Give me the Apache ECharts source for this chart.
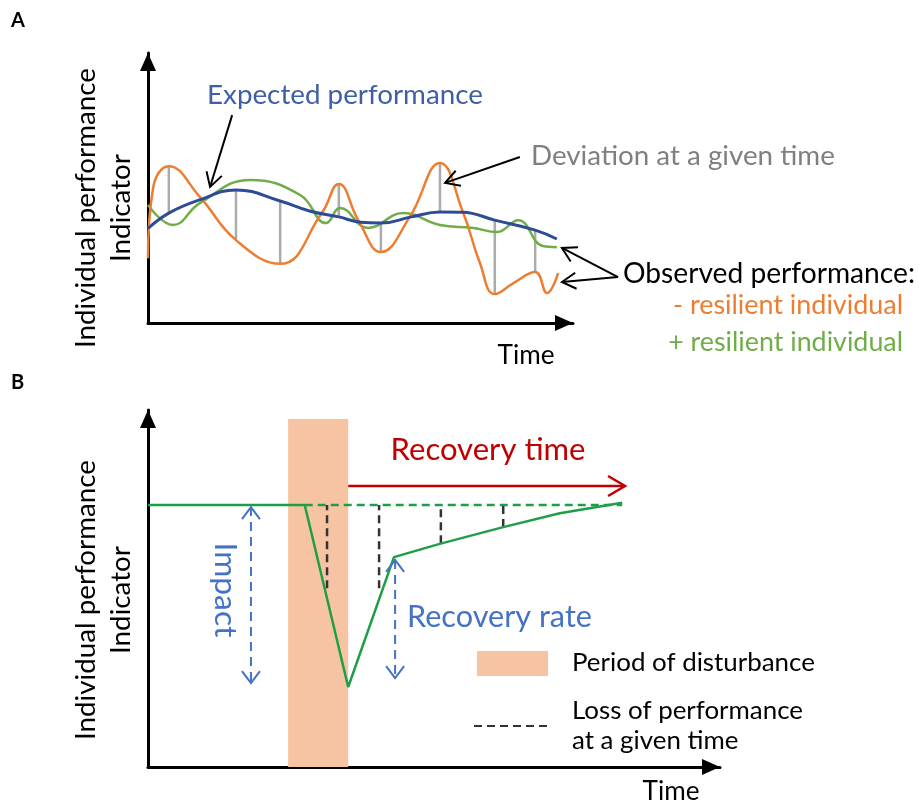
<!DOCTYPE html>
<html><head><meta charset="utf-8">
<script src="https://cdn.jsdelivr.net/npm/echarts@6/dist/echarts.min.js"></script>
<style>html,body{margin:0;padding:0;background:#fff}#c{width:919px;height:805px}</style>
</head><body><div id="c"></div>
<script>
// ---------- Panel A data (time 0-100, performance indicator 0-100) ----------
const expectedA = [[0,35],[4.9,40.7],[12,45.5],[20.7,49.3],[31.1,45.2],[38,41.5],[44.9,39.3],[50,37.3],[54.8,37],[62,39.3],[68.7,41.1],[74,41],[81.6,38.1],[91.1,34.4],[96.2,31.1]];
const lowResilientA = [[0,24],[1.2,50],[4.9,58.1],[12.2,46.7],[20.7,30.7],[31.1,21.9],[40.9,40.7],[44.9,51.5],[49.5,38],[54.8,26.3],[61.6,39.3],[68.7,59.3],[74.1,41.1],[78.1,22.2],[81.6,10.7],[86,14.8],[91.1,18.9],[93.9,11.1],[96.5,18.5]];
const highResilientA = [[0,43.7],[5.9,36.3],[12.2,44.4],[24,53],[35.8,47.4],[41.9,37],[45.2,42.6],[51.8,35.2],[60,40.7],[68.7,36.3],[76.5,35.2],[82.1,33.7],[87.1,38.1],[92.9,28.5],[96.2,28.1]];
const deviationTimesA = [4.9,20.7,31.1,44.9,54.8,68.7,81.6,91.1];
const annotationArrowsA = [[19.8,77,14.6,50.4],[87.5,61.5,69.9,51.9],[110.6,17,97.4,27.8],[110.6,17,97.4,15.2]];

// ---------- Panel B data ----------
const observedB = [[0,73.4],[27.4,73.4],[35,22.4],[43,58.8],[51,62.5],[62.1,67.2],[72,71.1],[82.9,74.0]];
const baselineB = [[27.4,73.4],[82.9,73.4]];
const disturbanceB = [24.5,35.0,97.5];
const lossTimesB = [31.3,40.4,51.2,62.1];
const lossBottomB = [50.1,50.1,62.7,67.2];
const recoveryTimeArrowB = [[35,78.7,83.4,78.7]];
const doubleArrowsB = [[18.0,72.8,18.0,23.5],[43.2,58,43.2,24.9]];

const FONT = 'Lato';
const C = document.createElement('canvas').getContext('2d');
function fit(text, w, weight) { C.font = (weight||'normal') + ' 100px ' + FONT; return 100 * w / C.measureText(text).width; }
function txt(text, x, y, color, w, o) {
  o = o || {};
  const size = o.size || fit(text, w, o.weight);
  const al = o.align || 'left';
  return { type:'text', x:x, y:y, rotation:o.rot||0, silent:true, z:10,
    style:{ text:text, x:0, y:0, fill:color, font:(o.weight||'normal')+' '+size.toFixed(2)+'px '+FONT,
      align:al, textAlign:al, verticalAlign:'middle', textVerticalAlign:'middle' } };
}
function lookup(arr, t) { for (const p of arr) if (Math.abs(p[0]-t) < 1e-9) return p[1]; return null; }

function segSeries(idx, data, o) {
  return { type:'custom', xAxisIndex:idx, yAxisIndex:idx, clip:false, silent:true, z:o.z||5, data:data,
    encode:{x:[0,2], y:[1,3]},
    renderItem:function(params, api){
      const p1 = api.coord([api.value(0), api.value(1)]);
      const p2 = api.coord([api.value(2), api.value(3)]);
      const kids = [{type:'line', shape:{x1:p1[0],y1:p1[1],x2:p2[0],y2:p2[1]},
        style:{stroke:o.color, lineWidth:o.width, lineDash:o.dash||null, fill:null}}];
      function head(tip, from){
        const a = Math.atan2(tip[1]-from[1], tip[0]-from[0]);
        const L=o.len, W=o.wid, c=Math.cos(a), s=Math.sin(a);
        return {type:'polyline', shape:{points:[[tip[0]-L*c+W*s, tip[1]-L*s-W*c], tip, [tip[0]-L*c-W*s, tip[1]-L*s+W*c]]},
          style:{stroke:o.color, lineWidth:o.width, fill:null}};
      }
      if (o.end) kids.push(head(p2,p1));
      if (o.start) kids.push(head(p1,p2));
      return {type:'group', children:kids};
    } };
}

const axisCommon = { type:'value', min:0, max:100, splitLine:{show:false}, axisTick:{show:false}, axisLabel:{show:false},
  axisLine:{show:true, onZero:false, symbol:['none','triangle'], symbolSize:[16,18], symbolOffset:[0,-9], lineStyle:{color:'#000', width:3}} };

const deviationSegs = deviationTimesA.map(t => [t, lookup(lowResilientA,t), t, lookup(expectedA,t)]);
const lossSegs = lossTimesB.map((t,i) => [t, lossBottomB[i], t, lookup(baselineB,27.4)]);
const labelSize = fit('Individual performance', 280);
const timeSize = fit('Time', 57);

const option = {
  animation:false,
  grid:[{left:148, top:53, width:425, height:270},{left:148, top:410, width:572, height:357}],
  xAxis:[Object.assign({gridIndex:0}, axisCommon), Object.assign({gridIndex:1}, axisCommon)],
  yAxis:[Object.assign({gridIndex:0}, axisCommon), Object.assign({gridIndex:1}, axisCommon)],
  series:[
    segSeries(0, deviationSegs, {color:'#ABABAB', width:2.5, z:1}),
    {type:'line', xAxisIndex:0, yAxisIndex:0, data:expectedA, smooth:0.45, symbol:'none', z:3, lineStyle:{color:'#2E4B96', width:3}},
    {type:'line', xAxisIndex:0, yAxisIndex:0, data:highResilientA, smooth:0.45, symbol:'none', z:2, lineStyle:{color:'#70AD47', width:2.5}},
    {type:'line', xAxisIndex:0, yAxisIndex:0, data:lowResilientA, smooth:0.45, symbol:'none', z:2, lineStyle:{color:'#ED7D31', width:2.5}},
    segSeries(0, annotationArrowsA, {color:'#000', width:2, end:true, len:14, wid:8, z:6}),

    { type:'custom', xAxisIndex:1, yAxisIndex:1, silent:true, z:1, data:[disturbanceB], encode:{x:[0,1], y:2},
      renderItem:function(params, api){
        const a = api.coord([api.value(0), 0]); const b = api.coord([api.value(1), api.value(2)]);
        return {type:'rect', shape:{x:a[0], y:b[1], width:b[0]-a[0], height:a[1]-b[1]}, style:{fill:'#F6C4A2'}};
      } },
    segSeries(1, lossSegs, {color:'#333333', width:2.5, dash:[8,5], z:4}),
    {type:'line', xAxisIndex:1, yAxisIndex:1, data:baselineB, symbol:'none', z:3, lineStyle:{color:'#1E9F47', width:2.5, type:[8,5]}},
    {type:'line', xAxisIndex:1, yAxisIndex:1, data:observedB, symbol:'none', z:5, lineStyle:{color:'#1E9F47', width:2.5}},
    segSeries(1, recoveryTimeArrowB, {color:'#C00000', width:2.5, end:true, len:17, wid:10, z:6}),
    segSeries(1, doubleArrowsB, {color:'#4472C4', width:2, dash:[9,6], end:true, start:true, len:12, wid:9, z:6})
  ],
  graphic:[
    txt('A', 11, 21, '#000', 0, {size:20, weight:'bold'}),
    txt('B', 11, 383, '#000', 0, {size:20, weight:'bold'}),
    txt('Individual performance', 86, 208, '#000', 0, {rot:Math.PI/2, align:'center', size:labelSize}),
    txt('Indicator', 121, 208, '#000', 0, {rot:Math.PI/2, align:'center', size:labelSize}),
    txt('Expected performance', 207, 95, '#3F5EA8', 276),
    txt('Deviation at a given time', 531, 156, '#7F7F7F', 304),
    txt('Observed performance:', 623, 274, '#000', 292),
    txt('- resilient individual', 903, 305, '#ED7D31', 230, {align:'right'}),
    txt('+ resilient individual', 903, 342, '#70AD47', 235, {align:'right'}),
    txt('Time', 526, 356, '#000', 0, {align:'center', size:timeSize}),

    txt('Individual performance', 86, 600, '#000', 0, {rot:Math.PI/2, align:'center', size:labelSize}),
    txt('Indicator', 121, 600, '#000', 0, {rot:Math.PI/2, align:'center', size:labelSize}),
    txt('Recovery time', 488, 450, '#C00000', 195, {align:'center'}),
    txt('Impact', 225, 590, '#4472C4', 95, {rot:-Math.PI/2, align:'center'}),
    txt('Recovery rate', 407, 617, '#4472C4', 185),
    {type:'rect', shape:{x:477, y:651, width:71, height:25}, style:{fill:'#F6C4A2'}, silent:true},
    txt('Period of disturbance', 572, 663, '#000', 243),
    {type:'line', shape:{x1:474, y1:726, x2:548, y2:726}, style:{stroke:'#333333', lineWidth:2, lineDash:[8,5]}, silent:true},
    txt('Loss of performance', 572, 711, '#000', 231),
    txt('at a given time', 572, 741, '#000', 0, {size:fit('Loss of performance',231)}),
    txt('Time', 671, 792, '#000', 0, {align:'center', size:timeSize})
  ]
};
const chart = echarts.init(document.getElementById('c'), null, {renderer:'canvas'});
chart.setOption(option);
</script></body></html>
